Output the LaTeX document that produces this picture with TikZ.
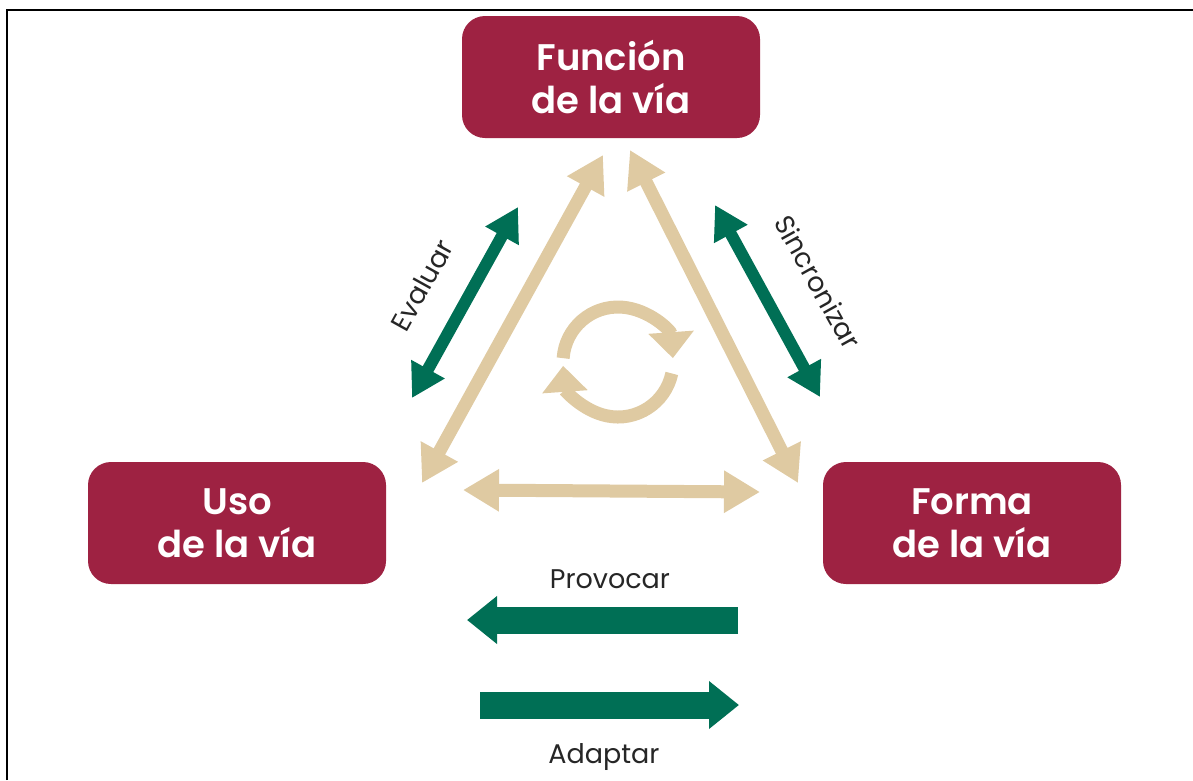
\documentclass[tikz,border=0pt]{standalone}
\usepackage{color,xcolor}
\usepackage{fontspec}
\setmainfont{Poppins}[BoldFont={Poppins SemiBold}]
\usepackage{pgf,tikz}
\usetikzlibrary{arrows.meta}

\definecolor{guinda}{HTML}{9E2242}
\definecolor{pino}{HTML}{006F55}
\definecolor{arena}{HTML}{DFCAA2}

\begin{document}
\begin{tikzpicture}[x=1pt, y=-1pt,
  caja/.style={fill=guinda, rounded corners=23pt, minimum width=298pt, minimum height=122pt,
    inner sep=0pt, text=white, align=center, font=\fontsize{37}{43}\selectfont\bfseries},
  etiqueta/.style={text=black!85, font=\fontsize{27}{30}\selectfont},
  beige/.style={draw=arena, line width=13pt, {Triangle[width=40pt,length=36pt]}-{Triangle[width=40pt,length=36pt]}},
  verde/.style={draw=pino, line width=12pt, {Triangle[width=36pt,length=33pt]}-{Triangle[width=36pt,length=33pt]}},
  flecha/.style={draw=pino, line width=27pt, -{Triangle[width=46pt,length=30pt]}},
  ciclo/.style={draw=arena, line width=13pt, -{Triangle[width=44pt,length=26pt]}}]
\useasboundingbox (0,0) rectangle (1193,780);
\draw[line width=2.5pt] (7,780) -- (7,10) -- (1193,10);

\node[caja] (funcion) at (611,77) {Función\\de la vía};
\node[caja] (uso) at (237,523) {Uso\\de la vía};
\node[caja] (forma) at (972,523) {Forma\\de la vía};

\coordinate (A) at (603,155);
\coordinate (B) at (422,483);
\coordinate (C) at (630,150);
\coordinate (D) at (798,483);
\coordinate (E) at (463,490);
\coordinate (F) at (760,492);

\draw[beige] (B) -- (A);
\draw[beige] (C) -- (D);
\draw[beige] (E) -- (F);

\coordinate (a) at (518,207);
\coordinate (b) at (412,398);
\coordinate (c) at (715,205);
\coordinate (d) at (820,397);

\draw[verde] (b) -- (a);
\draw[verde] (c) -- (d);

\node[etiqueta, rotate=61] (evaluar) at (422,285) {Evaluar};
\node[etiqueta, rotate=-61] (sincronizar) at (818,282) {Sincronizar};

\coordinate (p) at (738,620);
\coordinate (p') at (467,620);
\coordinate (q) at (480,705);
\coordinate (q') at (739,705);

\draw[flecha] (p) -- (p');
\draw[flecha] (q) -- (q');

\node[etiqueta] (provocar) at (610,579) {Provocar};
\node[etiqueta] (adaptar) at (604,757) {Adaptar};

\coordinate (O) at (618,362);
\draw[ciclo] (O) ++(-176:55) arc[start angle=-176, end angle=-4, radius=55];
\draw[ciclo] (O) ++(12:55) arc[start angle=12, end angle=176, radius=55];
\end{tikzpicture}
\end{document}
